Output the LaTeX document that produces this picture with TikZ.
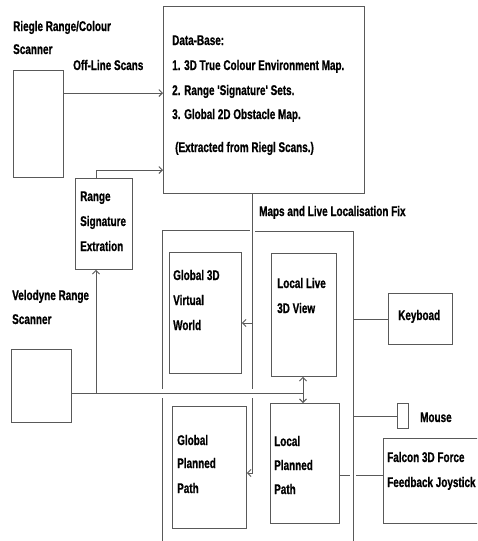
\documentclass[tikz,border=0pt]{standalone}
\usepackage{fontspec}
\newfontfamily\lblfont{Liberation Sans}[FakeStretch=0.71,FakeBold=0.8]
\usetikzlibrary{arrows.meta}
\tikzset{
  ln/.style={draw=black!65, line width=0.9pt},
  box/.style={draw=black!65, line width=0.9pt, inner sep=0pt, anchor=north west},
  lbl/.style={anchor=base west, inner sep=0pt, text=black, font=\lblfont\bfseries\fontsize{14}{16}\selectfont},
  tip/.style={-{Straight Barb[length=3.5pt,width=7pt]}},
  tips/.style={{Straight Barb[length=3.5pt,width=7pt]}-{Straight Barb[length=3.5pt,width=7pt]}}
}
\begin{document}
\begin{tikzpicture}[x=1pt,y=-1pt]
\useasboundingbox (0,0) rectangle (477,541);
\clip (0,0) rectangle (477,541);
\fill[white] (0,0) rectangle (477,541);

% boxes
\node[box, minimum width=50pt, minimum height=107pt] (riegl) at (13,70) {};
\node[box, minimum width=201pt, minimum height=187pt] (db) at (163,6) {};
\node[box, minimum width=57pt, minimum height=91pt] (rse) at (75,178) {};
\node[box, minimum width=60pt, minimum height=73pt] (velo) at (11,349) {};
\node[box, minimum width=72pt, minimum height=121pt] (g3d) at (169,252) {};
\node[box, minimum width=65pt, minimum height=123pt] (llv) at (271,253) {};
\node[box, minimum width=64pt, minimum height=51pt] (kbd) at (388,293) {};
\node[box, minimum width=69pt, minimum height=120pt] (lpp) at (270,403) {};
\node[box, minimum width=74pt, minimum height=122pt] (gpp) at (172,406) {};
\node[box, minimum width=11pt, minimum height=25pt] (mouse) at (397,403) {};
\node[box, minimum width=110pt, minimum height=85pt] (falcon) at (383,438) {};

% texts
\node[lbl] (t1) at (13,31) {Riegle Range/Colour};
\node[lbl] (t2) at (13,54) {Scanner};
\node[lbl] (t3) at (73,70) {Off-Line Scans};
\node[lbl] (d0) at (172,45) {Data-Base:};
\node[lbl] (d1) at (172,70) {1. 3D True Colour Environment Map.};
\node[lbl] (d2) at (172,95) {2. Range 'Signature' Sets.};
\node[lbl] (d3) at (172,119) {3. Global 2D Obstacle Map.};
\node[lbl] (d4) at (175,152) {(Extracted from Riegl Scans.)};
\node[lbl] (r1) at (80,201) {Range};
\node[lbl] (r2) at (80,226) {Signature};
\node[lbl] (r3) at (80,251) {Extration};
\node[lbl] (v1) at (12,300) {Velodyne Range};
\node[lbl] (v2) at (12,324) {Scanner};
\node[lbl] (mp) at (259,216) {Maps and Live Localisation Fix};
\node[lbl] (g1) at (173,280) {Global 3D};
\node[lbl] (g2) at (173,305) {Virtual};
\node[lbl] (g3) at (173,330) {World};
\node[lbl] (l1) at (277,288) {Local Live};
\node[lbl] (l2) at (277,313) {3D View};
\node[lbl] (kb) at (398,320) {Keyboad};
\node[lbl] (ms) at (420,422) {Mouse};
\node[lbl] (p1) at (177,445) {Global};
\node[lbl] (p2) at (177,468) {Planned};
\node[lbl] (p3) at (177,493) {Path};
\node[lbl] (q1) at (274,446) {Local};
\node[lbl] (q2) at (274,470) {Planned};
\node[lbl] (q3) at (274,494) {Path};
\node[lbl] (f1) at (387,462) {Falcon 3D Force};
\node[lbl] (f2) at (387,487) {Feedback Joystick};

% junction coordinates
\coordinate (a1) at (63,93);
\coordinate (rtop) at (96,178);
\coordinate (rbend) at (96,170);
\coordinate (rsej) at (96,393);
\coordinate (vj) at (303,393);
\coordinate (m0) at (252,193);
\coordinate (m1) at (252,389);
\coordinate (m2) at (252,398);
\coordinate (m3) at (252,473);
\coordinate (m4) at (253,323);
\coordinate (fl0) at (162,230);
\coordinate (fl1) at (162,389);
\coordinate (fl2) at (162,398);
\coordinate (fl3) at (162,541);
\coordinate (ft0) at (250,230);
\coordinate (ft1) at (255,231);
\coordinate (fr0) at (353,231);
\coordinate (fr1) at (353,541);
\coordinate (jk) at (353,316);
\coordinate (jm) at (353,416);
\coordinate (jf1) at (350,475);
\coordinate (jf2) at (356,475);

% frame
\draw[ln] (fl1) -- (fl0) -- (ft0);
\draw[ln] (fl2) -- (fl3);
\draw[ln] (ft1) -- (fr0) -- (fr1);

% connectors
\draw[ln,tip] (a1) -- (a1 -| db.west);
\draw[ln,tip] (rtop) -- (rbend) -- (rbend -| db.west);
\draw[ln] (velo.east |- vj) -- (vj);
\draw[ln,tip] (rsej) -- (rsej |- rse.south);
\draw[ln,tips] (vj |- llv.south) -- (vj |- lpp.north);
\draw[ln] (m0) -- (m1);
\draw[ln,tip] (m2) -- (m3) -- (m3 -| gpp.east);
\draw[ln,tip] (m4) -- (m4 -| g3d.east);
\draw[ln] (jk |- kbd.west) -- (kbd.west);
\draw[ln] (jm |- mouse.west) -- (mouse.west);
\draw[ln] (lpp.east |- jf1) -- (jf1);
\draw[ln] (jf2) -- (jf2 -| falcon.west);
\end{tikzpicture}
\end{document}
